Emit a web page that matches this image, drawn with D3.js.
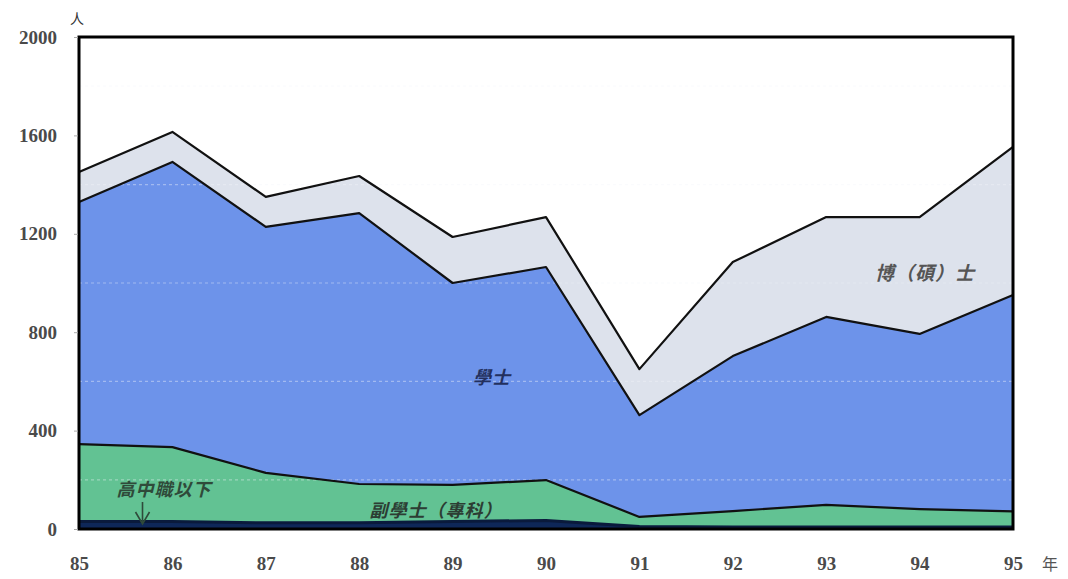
<!DOCTYPE html>
<html><head><meta charset="utf-8">
<script src="https://cdn.jsdelivr.net/npm/d3@7"></script>
<style>
html,body{margin:0;padding:0;background:#fff;}
svg{display:block;}
</style></head>
<body>
<svg id="chart" width="1068" height="579"></svg>
<script>
// ---- data ----
const years = ["85","86","87","88","89","90","91","92","93","94","95"];
const seriesNames = ["高中職以下","副學士（專科）","學士","博（碩）士"];
const highSchool = [30,30,25,25,30,35,10,8,8,8,8];
const associate  = [315,303,203,158,149,164,39,65,90,73,64];
const bachelor   = [984,1159,1000,1101,821,866,414,630,764,712,879];
const graduate   = [122,122,122,151,187,203,187,382,406,475,602];
const yTicks = [0,400,800,1200,1600,2000];
const gridVals = [200,600,1000,1400,1800];
const colors = ["#0e2758","#62c293","#6d93ea","#dde2ec"];

const rows = years.map((y,i)=>({year:y, s0:highSchool[i], s1:associate[i], s2:bachelor[i], s3:graduate[i]}));
const keys = ["s0","s1","s2","s3"];

const svg = d3.select("#chart");
const L=79, R=1013, T=37, B=529;
const x = d3.scalePoint().domain(years).range([L,R]);
const y = d3.scaleLinear().domain([0,2000]).range([B,T]);

const stack = d3.stack().keys(keys);
const layers = stack(rows);

const area = d3.area().x(d=>x(d.data.year)).y0(d=>y(d[0])).y1(d=>y(d[1]));
const line = d3.line().x(d=>x(d.data.year)).y(d=>y(d[1]));

svg.append("g").selectAll("path").data(layers).join("path")
  .attr("d",area).attr("fill",(d,i)=>colors[i]);

// faint dashed gridlines
svg.append("g").selectAll("line").data(gridVals).join("line")
  .attr("x1",L).attr("x2",R).attr("y1",d=>y(d)).attr("y2",d=>y(d))
  .attr("stroke","#f2f4fa").attr("stroke-opacity",0.4).attr("stroke-width",1.2)
  .attr("stroke-dasharray","3,3");

// boundary lines
svg.append("g").selectAll("path").data(layers).join("path")
  .attr("d",line).attr("fill","none")
  .attr("stroke",(d,i)=> i===0 ? "#0a1a3c" : "#111")
  .attr("stroke-width",(d,i)=> i===0 ? 3 : 2.2)
  .attr("stroke-linejoin","round");

// frame
svg.append("rect").attr("x",L).attr("y",T).attr("width",R-L).attr("height",B-T)
  .attr("fill","none").attr("stroke","#000").attr("stroke-width",3);

// y axis
const yAxis = d3.axisLeft(y).tickValues(yTicks).tickSize(4).tickPadding(17).tickFormat(d3.format("d"));
const gy = svg.append("g").attr("transform",`translate(${L-1},0)`).call(yAxis);
gy.select(".domain").remove();
gy.selectAll(".tick line").attr("stroke","#aaa");
gy.selectAll("text").attr("font-family","Liberation Serif").attr("font-size",19)
  .attr("font-weight","bold").attr("fill","#4a4a4a");

// x axis
const xAxis = d3.axisBottom(x).tickSize(0).tickPadding(28);
const gx = svg.append("g").attr("transform",`translate(0,${B})`).call(xAxis);
gx.select(".domain").remove();
gx.selectAll("text").attr("font-family","Liberation Serif").attr("font-size",19)
  .attr("font-weight","bold").attr("fill","#4a4a4a");

// unit labels
svg.append("text").attr("x",L-2).attr("y",24).attr("text-anchor","middle")
  .attr("font-family","Noto Sans CJK TC").attr("font-size",14).attr("fill","#333").text("人");
svg.append("text").attr("x",1050).attr("y",570).attr("text-anchor","middle")
  .attr("font-family","Noto Sans CJK TC").attr("font-size",16).attr("fill","#555").text("年");

// series labels
const lab = (t,xx,yy,size,fill,ls)=>svg.append("text").attr("x",xx).attr("y",yy)
  .attr("text-anchor","middle").attr("font-family","Noto Sans CJK TC")
  .attr("font-size",size).attr("font-style","italic").attr("font-weight","bold")
  .attr("letter-spacing",ls||0).attr("fill",fill).text(t);
lab(seriesNames[2],492,384,18,"#23305e",1);
lab(seriesNames[3],925,280,19,"#555",1);
lab(seriesNames[0],164,496,18,"#2f4a3a",1);
lab(seriesNames[1],436,517,18,"#2c3d33",1);

// arrow under 高中職以下
const ax = x("85") + (x("86")-x("85"))*0.68;
svg.append("path").attr("d",`M${ax},502 L${ax},524 M${ax-7},512 L${ax},524 L${ax+7},512`)
  .attr("fill","none").attr("stroke","#2f4a3a").attr("stroke-width",1.6);
</script>
</body></html>
